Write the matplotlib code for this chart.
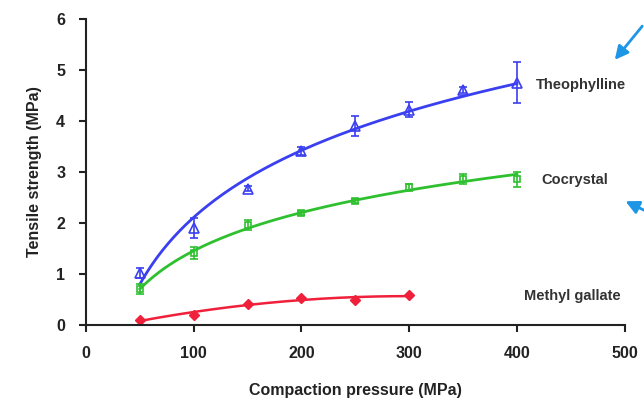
import numpy as np
import matplotlib.pyplot as plt

plt.rcParams['font.family'] = ['Liberation Sans', 'DejaVu Sans']
plt.rcParams['font.weight'] = 'bold'

# Dados
pressure = [50, 100, 150, 200, 250, 300, 350, 400]
theo = [1.02, 1.9, 2.67, 3.41, 3.9, 4.22, 4.6, 4.75]
theo_err = [0.1, 0.2, 0.05, 0.08, 0.2, 0.15, 0.06, 0.4]
cocry = [0.7, 1.41, 1.96, 2.2, 2.43, 2.7, 2.86, 2.86]
cocry_err = [0.1, 0.12, 0.1, 0.04, 0.04, 0.07, 0.1, 0.15]
mg_pressure = [50, 100, 150, 200, 250, 300]
mg = [0.1, 0.2, 0.42, 0.53, 0.5, 0.58]

blue = '#3a3ff0'
green = '#2ec02e'
red = '#f0203a'

fig = plt.figure(figsize=(6.44, 4.05), dpi=100)
ax = fig.add_axes([0.1335, 0.1975, 0.8365, 0.7555])

x = np.array(pressure, dtype=float)
xs = np.linspace(50, 400, 200)

# linhas de tendência logarítmicas
k1 = np.polyfit(np.log(x), theo, 1)
ax.plot(xs, np.polyval(k1, np.log(xs)), color=blue, lw=2)
k2 = np.polyfit(np.log(x), cocry, 1)
ax.plot(xs, np.polyval(k2, np.log(xs)), color=green, lw=2)
xm = np.array(mg_pressure, dtype=float)
k3 = np.polyfit(xm, mg, 2)
xms = np.linspace(50, 300, 150)
ax.plot(xms, np.polyval(k3, xms), color=red, lw=1.8)

ax.errorbar(pressure, theo, yerr=theo_err, fmt='^', mfc='none', mec=blue,
            ecolor=blue, ms=7, mew=1.2, capsize=3, elinewidth=1.2)
ax.errorbar(pressure, cocry, yerr=cocry_err, fmt='s', mfc='none', mec=green,
            ecolor=green, ms=5, mew=1.2, capsize=3, elinewidth=1.2)
ax.plot(mg_pressure, mg, 'D', color=red, ms=5)

ax.set_xlim(0, 500)
ax.set_ylim(0, 6)
ax.set_xticks(range(0, 501, 100))
ax.set_yticks(range(0, 7))
ax.spines['top'].set_visible(False)
ax.spines['right'].set_visible(False)
for s in ['left', 'bottom']:
    ax.spines[s].set_linewidth(1.5)
    ax.spines[s].set_color('#222222')
ax.tick_params(length=5, width=1.5, labelsize=11.5, colors='#222222', pad=10)
ax.set_xlabel('Compaction pressure (MPa)', fontsize=11.5, fontweight='bold',
              labelpad=16, color='#222222')
ax.set_ylabel('Tensile strength (MPa)', fontsize=11.5, fontweight='bold',
              labelpad=10, color='#222222')

ax.text(418, 4.7, 'Theophylline', fontsize=10.5, color='#333333', va='center', ha='left')
ax.text(423, 2.85, 'Cocrystal', fontsize=10.5, color='#333333', va='center', ha='left')
ax.text(407, 0.57, 'Methyl gallate', fontsize=10.5, color='#333333', va='center', ha='left')

# setas azuis na margem direita
arrow = dict(arrowstyle='-|>', color='#1e96e6', lw=2, mutation_scale=20)
fig.add_artist(plt.Annotation('', xy=(613 / 644, 1 - 62 / 405), xytext=(644 / 644, 1 - 24 / 405),
                              xycoords='figure fraction', arrowprops=arrow))
fig.add_artist(plt.Annotation('', xy=(623 / 644, 1 - 200 / 405), xytext=(652 / 644, 1 - 214 / 405),
                              xycoords='figure fraction', arrowprops=arrow))

fig.savefig('out.png', dpi=100)
